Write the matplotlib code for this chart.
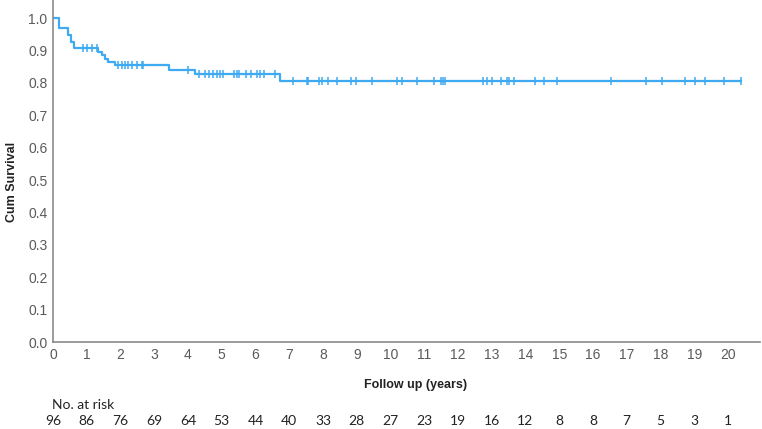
import numpy as np
import matplotlib.pyplot as plt

plt.rcParams['font.family'] = ['Liberation Sans', 'DejaVu Sans']

# event times (years) and survival after each event
event_t = [0.19, 0.43, 0.53, 0.62, 1.34, 1.44, 1.54, 1.64, 1.84, 3.44, 4.22, 6.72]
event_s = [0.969, 0.948, 0.927, 0.906, 0.896, 0.885, 0.875, 0.864, 0.854, 0.840, 0.826, 0.807]
censor_t = [0.90, 1.02, 1.15, 1.29, 1.94, 2.04, 2.13, 2.23, 2.33, 2.48, 2.63, 2.68,
            4.01, 4.33, 4.50, 4.63, 4.75, 4.87, 4.95, 5.05, 5.36, 5.46, 5.52, 5.72,
            5.86, 6.04, 6.13, 6.25, 6.58, 7.10, 7.52, 7.55, 7.89, 7.96, 8.16, 8.41,
            8.82, 8.98, 9.44, 10.18, 10.34, 10.79, 11.29, 11.50, 11.56, 11.62, 12.75,
            12.85, 13.01, 13.27, 13.46, 13.50, 13.67, 14.28, 14.55, 14.94, 16.53,
            17.56, 18.06, 18.72, 19.01, 19.32, 19.89, 20.38]
end_t = 20.38

years = list(range(0, 21))
at_risk = [96, 86, 76, 69, 64, 53, 44, 40, 33, 28, 27, 23, 19, 16, 12, 8, 8, 7, 5, 3, 1]

BLUE = '#3FA9F2'
GREY = '#8a8a8a'

ts = np.array([0.0] + event_t + [end_t])
ss = np.array([1.0] + event_s + [event_s[-1]])
ct = np.array(censor_t)
cs = ss[np.searchsorted(ts, ct, side='right') - 1]

fig = plt.figure(figsize=(7.62, 4.29), dpi=100)
ax = fig.add_axes([53/762, 1 - 342/429, 707/762, 342/429])

ax.step(ts, ss, where='post', color=BLUE, lw=1.6)
ax.plot(ct, cs, ls='none', marker='|', ms=5.5, mew=1.1, color=BLUE)

ax.set_xlim(0, 20.95)
ax.set_ylim(0, 1.0556)
ax.set_xticks(years)
ax.set_yticks(np.arange(0, 1.01, 0.1))
ax.set_yticklabels([f'{v:.1f}' for v in np.arange(0, 1.01, 0.1)])
ax.tick_params(length=0, labelsize=10, labelcolor='#5a5a5a', pad=4)

for sp in ['top', 'right']:
    ax.spines[sp].set_visible(False)
for sp in ['left', 'bottom']:
    ax.spines[sp].set_color(GREY)
    ax.spines[sp].set_linewidth(1.2)

fig.text(12/762, 1 - 182/429, 'Cum Survival', rotation=90, ha='center', va='center',
         fontsize=9, fontweight='bold', color='#222222')
fig.text(416/762, 1 - 385/429, 'Follow up (years)', ha='center', va='center',
         fontsize=9, fontweight='bold', color='#222222')
fig.text(52/762, 1 - 405/429, 'No. at risk', ha='left', va='center',
         fontsize=10, family='Lato', color='#222222')

row_y = -(421 - 342) / 342
for x, n in zip(years, at_risk):
    ax.text(x, row_y, str(n), ha='center', va='center', fontsize=10, family='Lato',
            color='#222222', transform=ax.get_xaxis_transform(), clip_on=False)

fig.savefig('out.png', dpi=100)
